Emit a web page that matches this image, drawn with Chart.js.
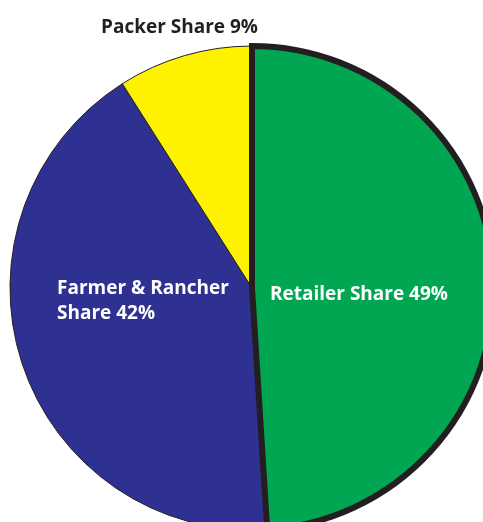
<!DOCTYPE html>
<html lang="en">
<head>
	<meta charset="utf-8">
	<title>Beef dollar shares</title>
	<style>
html, body {
	margin: 0;
	padding: 0;
	background: #fff;
	overflow: hidden;
	width: 483px;
	height: 522px;
}
#chartWrapper {
	position: absolute;
	left: 7px;
	top: 0;
	width: 490px;
	height: 533px;
}
	</style>
</head>
<body>

<div id="chartWrapper">
  <canvas id="myChart"></canvas>
</div>

<script src="https://cdn.jsdelivr.net/npm/chart.js"></script>
<script>
// drawn in this order so the retailer outline sits on top
const shareNames = ['Farmer & Rancher', 'Packer', 'Retailer'];
const shareValues = [42, 9, 49];
const shareLabels = [['Farmer & Rancher', 'Share 42%'], ['Packer Share 9%'], ['Retailer Share 49%']];
const sliceColors = ['#2e3192', '#fff200', '#00a651'];

// labels drawn relative to the pie centre
const sliceText = {
	id: 'sliceText',
	afterDatasetsDraw(chart) {
		const ctx = chart.ctx;
		const arc = chart.getDatasetMeta(0).data[0];
		const cx = arc.x, cy = arc.y, r = arc.outerRadius;
		ctx.save();
		ctx.font = 'bold 19px "Open Sans"';
		ctx.textBaseline = 'alphabetic';
		ctx.textAlign = 'left';

		ctx.fillStyle = '#ffffff';
		ctx.fillText(shareLabels[0][0], cx - 195, cy + 6);
		ctx.fillText(shareLabels[0][1], cx - 195, cy + 31);
		ctx.fillText(shareLabels[2][0], cx + 18, cy + 12);

		ctx.fillStyle = '#231f20';
		ctx.fillText(shareLabels[1][0], cx - 151, cy - r + 33 - 46);
		ctx.restore();
	}
};

const ctx = document.getElementById('myChart');

new Chart(ctx, {
	type: 'pie',
	data: {
		labels: shareNames,
		datasets: [{
			data: shareValues,
			backgroundColor: sliceColors,
			borderColor: '#231f20',
			borderWidth: [1, 1, 6],
			borderJoinStyle: 'miter'
		}]
	},
	options: {
		responsive: true,
		maintainAspectRatio: false,
		animation: false,
		rotation: 176.4,
		layout: { padding: { top: 43 } },
		plugins: {
			legend: { display: false },
			tooltip: { enabled: false }
		}
	},
	plugins: [sliceText]
});
</script>
</body>
</html>
